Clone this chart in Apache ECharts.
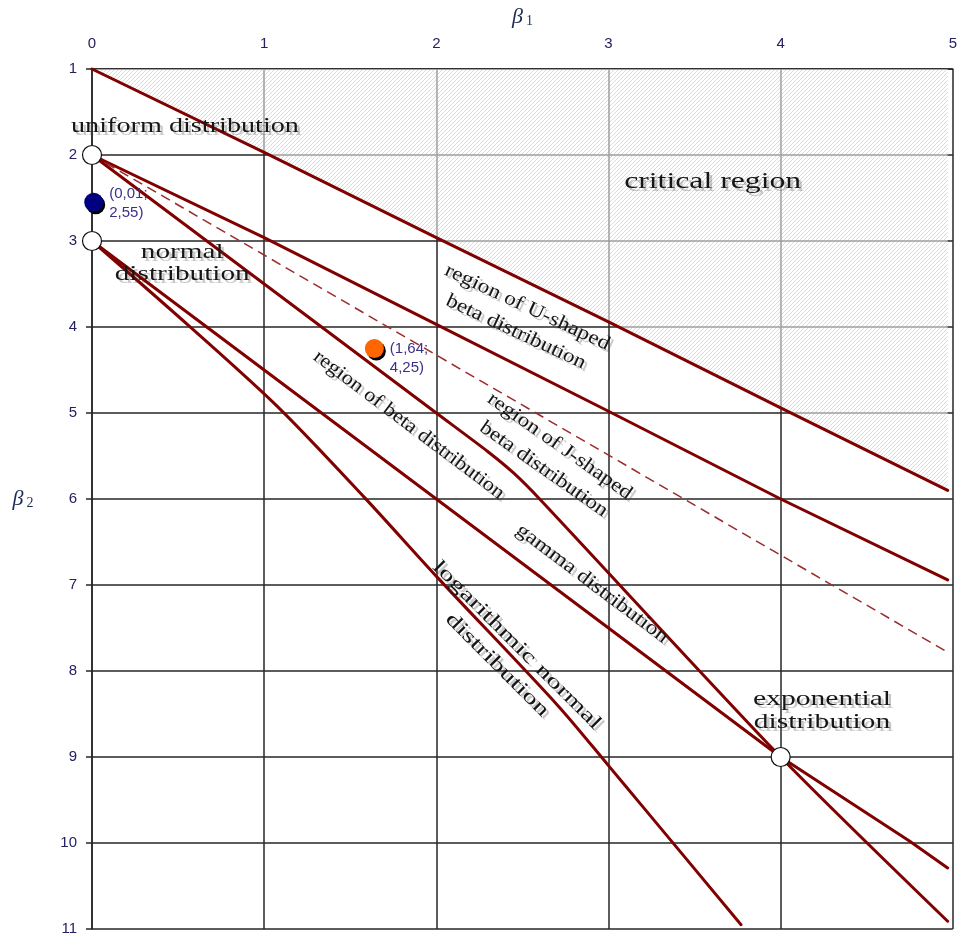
<!DOCTYPE html>
<html>
<head>
<meta charset="utf-8">
<script src="https://cdn.jsdelivr.net/npm/echarts@6/dist/echarts.min.js"></script>
<style>
html, body { margin: 0; background: #fff; }
#pearson { width: 960px; height: 938px; }
</style>
</head>
<body>
<div id="pearson"></div>
<script>
// beta1 / beta2 values
var xTicks = [0, 1, 2, 3, 4, 5];
var yTicks = [1, 2, 3, 4, 5, 6, 7, 8, 9, 10, 11];
var criticalLine = [[0, 1], [1, 1.97], [2, 2.96], [3, 3.94], [4, 4.94], [4.97, 5.9]];
var uShapedLine = [[0, 2], [1, 2.96], [2, 3.97], [3, 4.98], [4, 6.0], [4.97, 6.94]];
var jShapedLine = [[0, 2], [4.96, 7.77]];
var betaLine = [[0, 2], [2, 5], [2.3, 5.45], [2.45, 5.7], [2.6, 6.0], [4, 9], [4.97, 10.91]];
var gammaLine = [[0, 3], [2, 6], [4, 9], [4.75, 9.98], [4.97, 10.29]];
var logNormalLine = [[0, 3], [0.565, 3.99], [1.085, 4.94], [1.586, 5.99], [2.01, 6.92], [2.705, 8.4], [3.0, 9.1], [3.2, 9.58], [3.77, 10.95]];
var namedPoints = [[0, 2], [0, 3], [4, 9]];
var sampleBlue = [0.01, 2.55];
var sampleOrange = [1.64, 4.25];

// text notes, placed in beta1/beta2 coordinates
var notes = [
    { text: 'uniform distribution', at: [0.54, 1.67], angle: 0, size: 21, width: 228, lh: 22 },
    { text: 'critical region', at: [3.605, 2.31], angle: 0, size: 24, width: 177, lh: 24 },
    { text: 'normal\ndistribution', at: [0.524, 3.264], angle: 0, size: 21, width: 135, lh: 22 },
    { text: 'exponential\ndistribution', at: [4.24, 8.467], angle: 0, size: 21, width: 138, lh: 23 },
    { text: 'region of U-shaped\nbeta distribution', at: [2.495, 3.915], angle: 25, size: 20, width: 180, lh: 27 },
    { text: 'region of J-shaped\nbeta distribution', at: [2.67, 5.52], angle: 35, size: 20, width: 172, lh: 28 },
    { text: 'region of beta distribution', at: [1.84, 5.14], angle: 37, size: 20, width: 234, lh: 22 },
    { text: 'gamma distribution', at: [2.905, 6.985], angle: 37, size: 20, width: 185, lh: 22 },
    { text: 'logarithmic normal\ndistribution', at: [2.41, 7.816], angle: 45, size: 20, width: 230, lh: 28 }
];

var dark = '#800000';
var serif = '"Liberation Serif", "Times New Roman", serif';

function hatch() {
    var c = document.createElement('canvas');
    c.width = 4; c.height = 4;
    var g = c.getContext('2d');
    g.fillStyle = 'rgba(255,255,255,0.55)';
    g.fillRect(0, 0, 4, 4);
    g.strokeStyle = 'rgba(170,170,170,0.55)';
    g.lineWidth = 0.8;
    g.beginPath();
    g.moveTo(0, 4); g.lineTo(4, 0);
    g.moveTo(-1, 1); g.lineTo(1, -1);
    g.moveTo(3, 5); g.lineTo(5, 3);
    g.stroke();
    return c;
}

function comma(v) {
    return v.toFixed(2).replace('.', ',');
}

function curve(data, extra) {
    var s = {
        type: 'line',
        data: data,
        symbol: 'none',
        clip: false,
        silent: true,
        z: 3,
        lineStyle: { color: dark, width: 3, cap: 'round', join: 'round' }
    };
    for (var k in extra) s[k] = extra[k];
    return s;
}

var pearsonChart = echarts.init(document.getElementById('pearson'));
var axisColor = '#262626';
var tickColor = '#24215f';
var nameRich = {
    b: { fontFamily: serif, fontStyle: 'italic', fontSize: 22, color: '#1d2b55', verticalAlign: 'bottom' },
    s: { fontFamily: serif, fontSize: 14, color: '#1d2b55', verticalAlign: 'bottom', padding: [0, 0, 0, 3] }
};

var option = {
    animation: false,
    grid: { left: 92, right: 3, top: 69, bottom: 9 },
    xAxis: {
        type: 'value',
        position: 'top',
        min: xTicks[0],
        max: xTicks[xTicks.length - 1],
        interval: 1,
        name: '{b|β}{s|1}',
        nameLocation: 'middle',
        nameGap: 52,
        nameTextStyle: { align: 'center', verticalAlign: 'middle', rich: nameRich },
        axisLine: { show: true, lineStyle: { color: axisColor, width: 1.5 } },
        axisTick: { show: false },
        axisLabel: { margin: 18, fontSize: 15, fontFamily: 'Liberation Sans', color: tickColor },
        splitLine: { show: true, lineStyle: { color: axisColor, width: 1.5 } }
    },
    yAxis: {
        type: 'value',
        inverse: true,
        min: yTicks[0],
        max: yTicks[yTicks.length - 1],
        interval: 1,
        name: '{b|β}{s|2}',
        nameLocation: 'middle',
        nameRotate: 0,
        nameGap: 69,
        nameTextStyle: { align: 'center', verticalAlign: 'middle', rich: nameRich },
        axisLine: { show: true, lineStyle: { color: axisColor, width: 1.5 } },
        axisTick: { show: true, length: 6, lineStyle: { color: axisColor, width: 1.5 } },
        axisLabel: { margin: 15, fontSize: 15, fontFamily: 'Liberation Sans', color: tickColor },
        splitLine: { show: true, lineStyle: { color: axisColor, width: 1.5 } }
    },
    series: [
        curve(criticalLine, {
            z: 2,
            areaStyle: { origin: 'start', opacity: 1, color: { image: hatch(), repeat: 'repeat' } }
        }),
        curve(uShapedLine),
        curve(jShapedLine, { lineStyle: { color: '#9b2b2b', width: 1.5, type: [10, 6] } }),
        curve(betaLine, { smooth: 0.25 }),
        curve(gammaLine),
        curve(logNormalLine, { smooth: 0.3 }),
        {
            type: 'scatter',
            data: namedPoints,
            symbolSize: 19,
            z: 5,
            silent: true,
            itemStyle: { color: '#fff', borderColor: '#111', borderWidth: 1.2, opacity: 1 }
        },
        {
            type: 'scatter',
            z: 5,
            silent: true,
            symbolSize: 19,
            data: [
                {
                    value: sampleBlue,
                    itemStyle: { color: '#000080' },
                    label: { offset: [0, 1] }
                },
                {
                    value: sampleOrange,
                    itemStyle: { color: '#ff6600' },
                    label: { offset: [0, 10] }
                }
            ],
            itemStyle: { opacity: 1, shadowColor: '#000', shadowBlur: 0, shadowOffsetX: 2, shadowOffsetY: 2.5 },
            label: {
                show: true,
                position: 'right',
                distance: 6,
                align: 'left',
                fontSize: 15,
                lineHeight: 19,
                fontFamily: 'Liberation Sans',
                color: '#3a3088',
                formatter: function (p) {
                    return '(' + comma(p.value[0]) + ';\n' + comma(p.value[1]) + ')';
                }
            }
        }
    ]
};
pearsonChart.setOption(option);

// notes as graphic text, stretched to the widths seen in the picture
var meter = document.createElement('canvas').getContext('2d');
var texts = [];
notes.forEach(function (n) {
    meter.font = n.size + 'px ' + serif;
    var w = 0;
    n.text.split('\n').forEach(function (line) {
        w = Math.max(w, meter.measureText(line).width);
    });
    var p = pearsonChart.convertToPixel({ gridIndex: 0 }, n.at);
    var base = {
        type: 'text',
        rotation: -n.angle * Math.PI / 180,
        scaleX: n.width / w,
        silent: true
    };
    [['rgba(60,60,60,0.28)', 3, 3, 8], ['#161616', 0, 0, 9]].forEach(function (s) {
        var el = echarts.util.extend({}, base);
        el.x = p[0] + s[1];
        el.y = p[1] + s[2];
        el.z = s[3];
        el.style = {
            text: n.text,
            font: n.size + 'px ' + serif,
            fill: s[0],
            align: 'center',
            verticalAlign: 'middle',
            lineHeight: n.lh
        };
        texts.push(el);
    });
});
pearsonChart.setOption({ graphic: texts });
</script>
</body>
</html>
